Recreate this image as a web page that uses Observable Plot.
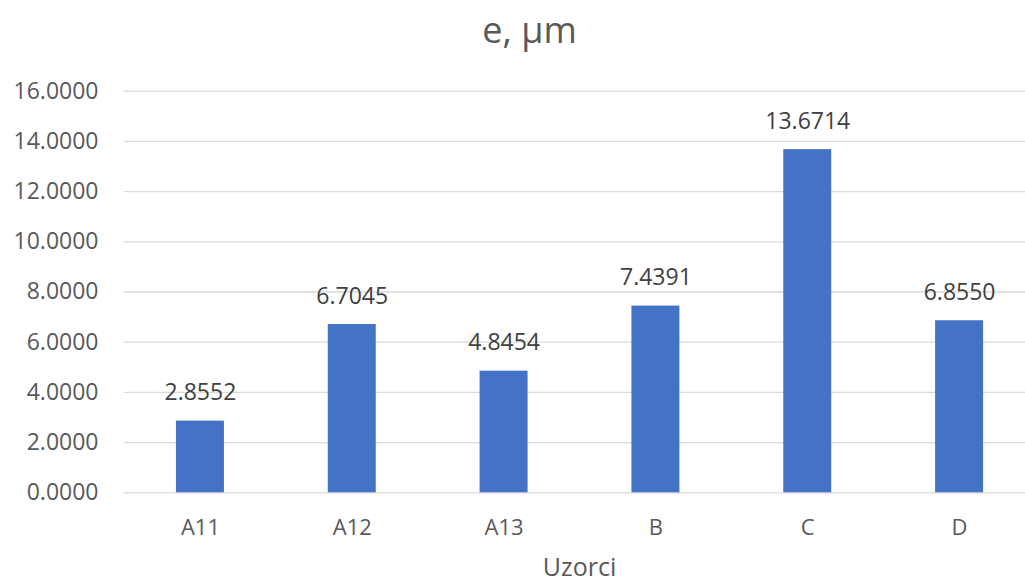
<!DOCTYPE html>
<html>
<head>
<meta charset="utf-8">
<script src="https://cdn.jsdelivr.net/npm/d3@7"></script>
<script src="https://cdn.jsdelivr.net/npm/@observablehq/plot@0.6"></script>
<style>
  html, body { margin: 0; padding: 0; background: #fff; overflow: hidden; }
  body { width: 1025px; height: 582px; font-family: "Open Sans", sans-serif; }
  #title { height: 60px; line-height: 60px; text-align: center; font-size: 36px; color: #595959; padding-left: 34px; box-sizing: border-box; }
  #xlabel { height: 32px; line-height: 32px; text-align: center; font-size: 25px; color: #595959; padding-left: 134px; box-sizing: border-box; }
  svg { display: block; }
</style>
</head>
<body>
<div id="title">e, µm</div>
<div id="chart"></div>
<div id="xlabel">Uzorci</div>
<script>
const categories = ["A11", "A12", "A13", "B", "C", "D"];
const values = [2.8552, 6.7045, 4.8454, 7.4391, 13.6714, 6.8550];
const yTicks = [0, 2, 4, 6, 8, 10, 12, 14, 16];

const data = categories.map((c, i) => ({ cat: c, val: values[i] }));
const fmt = d3.format(".4f");

const chart = Plot.plot({
  width: 1025,
  height: 490,
  marginTop: 30.7,
  marginBottom: 57.7,
  marginLeft: 124,
  marginRight: 0,
  style: { fontFamily: "Open Sans, sans-serif", background: "#fff", overflow: "hidden" },
  x: { domain: categories, range: [124, 1035], round: false, paddingInner: 0.684, paddingOuter: 0.342 },
  y: { domain: [0, 16] },
  marks: [
    Plot.gridY(yTicks, { stroke: "#d9d9d9", strokeOpacity: 1, strokeWidth: 1.3 }),
    Plot.barY(data, { x: "cat", y: "val", fill: "#4472c4" }),
    Plot.text(data, { x: "cat", y: "val", text: d => fmt(d.val), lineAnchor: "bottom", dy: -21, fontSize: 23, fill: "#404040" }),
    Plot.axisY(yTicks, { tickSize: 0, tickPadding: 26, tickFormat: fmt, fontSize: 23, color: "#595959", label: null }),
    Plot.axisX({ tickSize: 0, tickPadding: 27, fontSize: 22, color: "#595959", label: null })
  ]
});
document.getElementById("chart").appendChild(chart);
</script>
</body>
</html>
